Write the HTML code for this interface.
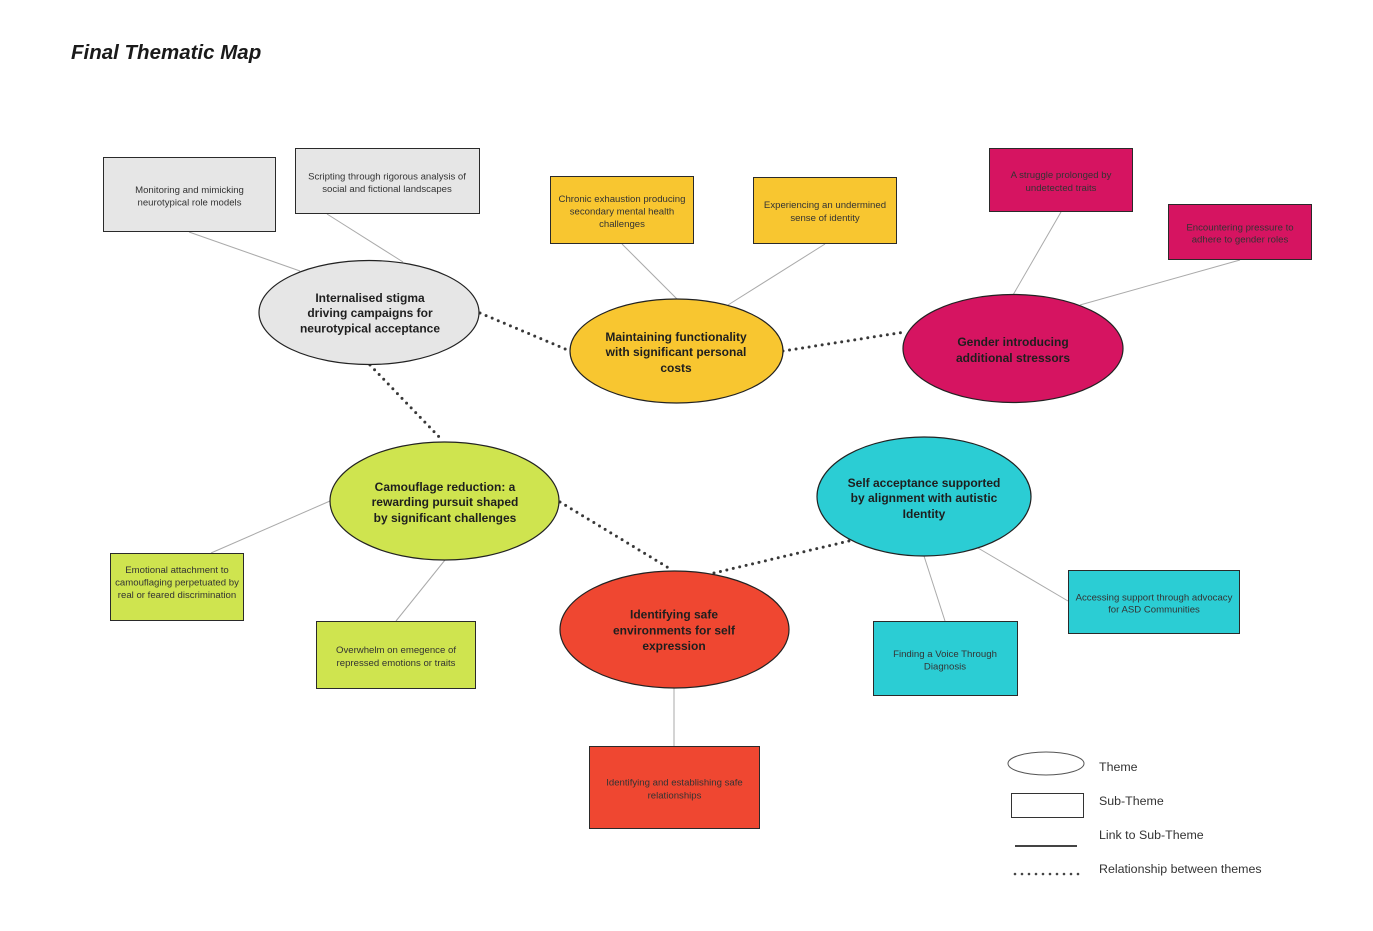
<!DOCTYPE html>
<html><head><meta charset="utf-8"><style>
html,body{margin:0;padding:0;background:#fff;}
svg{display:block;}
.sub{font-family:"Liberation Sans",sans-serif;font-size:9.6px;fill:#333;text-anchor:middle;dominant-baseline:central;}
.th{font-family:"Liberation Sans",sans-serif;font-size:12px;font-weight:bold;fill:#1e1e1e;text-anchor:middle;dominant-baseline:central;}
.lg{font-family:"Liberation Sans",sans-serif;font-size:12.4px;fill:#333;dominant-baseline:central;}
.ln{stroke:#aaa;stroke-width:1;fill:none;}
.dot{stroke:#383838;stroke-width:3;stroke-linecap:round;stroke-dasharray:0 6.6;fill:none;}
.box{stroke:#2a2a2a;stroke-width:1;}
.ell{stroke:#222;stroke-width:1.2;}
</style></head><body>
<svg width="1373" height="931" viewBox="0 0 1373 931" xmlns="http://www.w3.org/2000/svg">
<text x="71" y="59" font-family="Liberation Sans, sans-serif" font-size="20.5" font-weight="bold" font-style="italic" fill="#1a1a1a">Final Thematic Map</text>

<!-- link lines -->
<line class="ln" x1="189" y1="232" x2="300" y2="271"/>
<line class="ln" x1="327" y1="214" x2="403" y2="262"/>
<line class="ln" x1="622" y1="244" x2="677" y2="299"/>
<line class="ln" x1="825" y1="244" x2="728" y2="305"/>
<line class="ln" x1="1061" y1="212" x2="1013" y2="295"/>
<line class="ln" x1="1240" y1="260" x2="1080" y2="305"/>
<line class="ln" x1="211" y1="553" x2="330" y2="501"/>
<line class="ln" x1="396" y1="621" x2="445" y2="560"/>
<line class="ln" x1="674" y1="688" x2="674" y2="746"/>
<line class="ln" x1="924" y1="556" x2="945" y2="621"/>
<line class="ln" x1="978" y1="548" x2="1068" y2="601"/>

<!-- dotted relationships -->
<line class="dot" x1="480" y1="313" x2="570" y2="351"/>
<line class="dot" x1="783" y1="351" x2="905" y2="332"/>
<line class="dot" x1="370" y1="365" x2="442" y2="440"/>
<line class="dot" x1="560" y1="502" x2="672" y2="570"/>
<line class="dot" x1="714" y1="573" x2="849" y2="541"/>

<!-- sub-theme boxes -->
<g transform="translate(0,1)">
<rect class="box" x="103.5" y="156.5" width="172" height="74" fill="#e6e6e6"/>
<text class="sub" x="189.5" y="189.5">Monitoring and mimicking</text>
<text class="sub" x="189.5" y="202">neurotypical role models</text>

<rect class="box" x="295.5" y="147.5" width="184" height="65" fill="#e6e6e6"/>
<text class="sub" x="387" y="176">Scripting through rigorous analysis of</text>
<text class="sub" x="387" y="188.5">social and fictional landscapes</text>

<rect class="box" x="550.5" y="175.5" width="143" height="67" fill="#f8c630"/>
<text class="sub" x="622" y="198.5">Chronic exhaustion producing</text>
<text class="sub" x="622" y="211">secondary mental health</text>
<text class="sub" x="622" y="223.5">challenges</text>

<rect class="box" x="753.5" y="176.5" width="143" height="66" fill="#f8c630"/>
<text class="sub" x="825" y="204.5">Experiencing an undermined</text>
<text class="sub" x="825" y="217.5">sense of identity</text>

<rect class="box" x="989.5" y="147.5" width="143" height="63" fill="#d61461"/>
<text class="sub" x="1061" y="174.5">A struggle prolonged by</text>
<text class="sub" x="1061" y="187.5">undetected traits</text>

<rect class="box" x="1168.5" y="203.5" width="143" height="55" fill="#d61461"/>
<text class="sub" x="1240" y="227">Encountering pressure to</text>
<text class="sub" x="1240" y="239">adhere to gender roles</text>

<rect class="box" x="110.5" y="552.5" width="133" height="67" fill="#cfe44f"/>
<text class="sub" x="177" y="569.5">Emotional attachment to</text>
<text class="sub" x="177" y="582">camouflaging perpetuated by</text>
<text class="sub" x="177" y="594.5">real or feared discrimination</text>

<rect class="box" x="316.5" y="620.5" width="159" height="67" fill="#cfe44f"/>
<text class="sub" x="396" y="649.5">Overwhelm on emegence of</text>
<text class="sub" x="396" y="662.5">repressed emotions or traits</text>

<rect class="box" x="589.5" y="745.5" width="170" height="82" fill="#ef4731"/>
<text class="sub" x="674.5" y="782">Identifying and establishing safe</text>
<text class="sub" x="674.5" y="795">relationships</text>

<rect class="box" x="873.5" y="620.5" width="144" height="74" fill="#2bcdd4"/>
<text class="sub" x="945" y="653.5">Finding a Voice Through</text>
<text class="sub" x="945" y="666">Diagnosis</text>

<rect class="box" x="1068.5" y="569.5" width="171" height="63" fill="#2bcdd4"/>
<text class="sub" x="1154" y="597">Accessing support through advocacy</text>
<text class="sub" x="1154" y="609">for ASD Communities</text>
</g>

<!-- theme ellipses -->
<ellipse class="ell" cx="369" cy="312.5" rx="110" ry="52" fill="#e6e6e6"/>
<text class="th" x="370" y="298">Internalised stigma</text>
<text class="th" x="370" y="313">driving campaigns for</text>
<text class="th" x="370" y="328.5">neurotypical acceptance</text>

<ellipse class="ell" cx="676.5" cy="351" rx="106.5" ry="52" fill="#f8c630"/>
<text class="th" x="676" y="337">Maintaining functionality</text>
<text class="th" x="676" y="352">with significant personal</text>
<text class="th" x="676" y="368">costs</text>

<ellipse class="ell" cx="1013" cy="348.5" rx="110" ry="54" fill="#d61461"/>
<text class="th" x="1013" y="342">Gender introducing</text>
<text class="th" x="1013" y="358">additional stressors</text>

<ellipse class="ell" cx="444.5" cy="501" rx="114.5" ry="59" fill="#cfe44f"/>
<text class="th" x="445" y="487">Camouflage reduction: a</text>
<text class="th" x="445" y="502">rewarding pursuit shaped</text>
<text class="th" x="445" y="518">by significant challenges</text>

<ellipse class="ell" cx="674.5" cy="629.5" rx="114.5" ry="58.5" fill="#ef4731"/>
<text class="th" x="674" y="614.5">Identifying safe</text>
<text class="th" x="674" y="630.5">environments for self</text>
<text class="th" x="674" y="646">expression</text>

<ellipse class="ell" cx="924" cy="496.5" rx="107" ry="59.5" fill="#2bcdd4"/>
<text class="th" x="924" y="483">Self acceptance supported</text>
<text class="th" x="924" y="498">by alignment with autistic</text>
<text class="th" x="924" y="514">Identity</text>

<!-- legend -->
<ellipse cx="1046" cy="763.5" rx="38" ry="11.5" fill="#fff" stroke="#555" stroke-width="1"/>
<text class="lg" x="1099" y="767">Theme</text>
<rect x="1011.5" y="793.5" width="72" height="24" fill="#fff" stroke="#333" stroke-width="1"/>
<text class="lg" x="1099" y="801">Sub-Theme</text>
<line x1="1015" y1="846" x2="1077" y2="846" stroke="#444" stroke-width="2"/>
<text class="lg" x="1099" y="835">Link to Sub-Theme</text>
<line x1="1015" y1="874" x2="1079" y2="874" stroke="#444" stroke-width="2.6" stroke-linecap="round" stroke-dasharray="0 7"/>
<text class="lg" x="1099" y="869">Relationship between themes</text>
</svg>
</body></html>
